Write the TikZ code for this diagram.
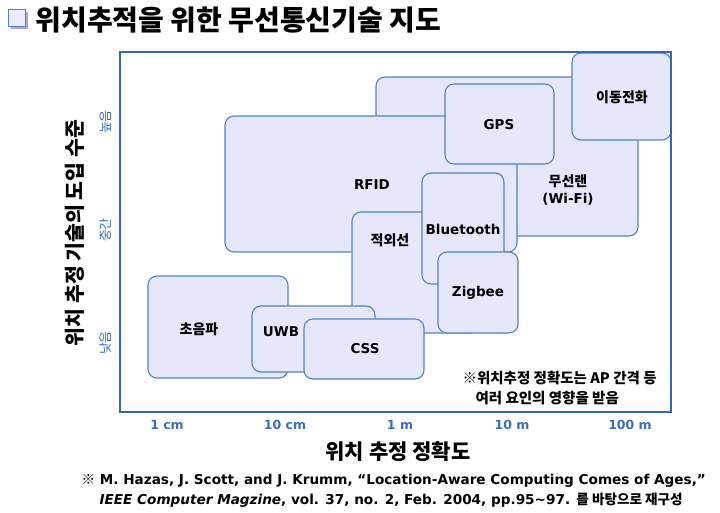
\documentclass[tikz,border=0pt]{standalone}
\usepackage{fontspec}
\setmainfont{DejaVu Sans}
\newfontfamily\kr{Noto Sans CJK KR}
\usepackage{xcolor}
\usetikzlibrary{positioning}

\definecolor{boxfill}{RGB}{230,231,251}
\definecolor{boxline}{RGB}{84,130,196}
\definecolor{frameblue}{RGB}{52,104,178}
\definecolor{ticktext}{RGB}{58,110,188}

\begin{document}
\begin{tikzpicture}[x=1pt,y=-1pt,
    techbox/.style={draw=boxline,fill=boxfill,line width=1.1pt,rounded corners=9pt},
    techlabel/.style={font=\bfseries\fontsize{13.5}{16}\selectfont},
    krlabel/.style={font=\kr\bfseries\fontsize{14}{17}\selectfont},
    ticklabel/.style={text=ticktext,font=\bfseries\fontsize{12.5}{14}\selectfont},
    levellabel/.style={text=ticktext,rotate=90,font=\kr\fontsize{13}{14}\selectfont}]
    \useasboundingbox (0,0) rectangle (720,512);

    % Title
    \fill[gray!60!blue!50] (11,12) rectangle (28,29); % shadow
    \draw[boxline,fill=blue!8,line width=0.8pt] (8,9) rectangle (25,26);
    \node[anchor=west,font=\kr\bfseries\fontsize{28}{32}\selectfont] (title) at (32,20) {위치추적을 위한 무선통신기술 지도};

    % Technology boxes (back to front)
    \draw[techbox] (376,77) rectangle (638,236); % 무선랜
    \draw[techbox] (225,116) rectangle (517,252); % RFID
    \draw[techbox] (445,84) rectangle (554,164); % GPS
    \draw[techbox] (572,53) rectangle (671,140); % 이동전화
    \draw[techbox] (352,212) rectangle (480,333); % 적외선
    \draw[techbox] (422,173) rectangle (504,284); % Bluetooth
    \draw[techbox] (438,252) rectangle (518,333); % Zigbee
    \draw[techbox] (148,276) rectangle (288,378); % 초음파
    \draw[techbox] (252,306) rectangle (375,372); % UWB
    \draw[techbox] (304,319) rectangle (424,379); % CSS

    \node[krlabel,align=center] (wlan) at (568,190) {무선랜\\\normalfont\bfseries\fontsize{13.5}{16}\selectfont (Wi-Fi)};
    \node[techlabel] (rfid) at (372,185) {RFID};
    \node[techlabel] (gps) at (499,125) {GPS};
    \node[krlabel] (mobile) at (622,97) {이동전화};
    \node[krlabel] (ir) at (390,240) {적외선};
    \node[techlabel] (bt) at (463,229) {Bluetooth};
    \node[techlabel] (zigbee) at (478,293) {Zigbee};
    \node[krlabel] (ultra) at (199,329) {초음파};
    \node[techlabel] (uwb) at (281,332) {UWB};
    \node[techlabel] (css) at (365,349) {CSS};

    % Note
    \node[anchor=west,font=\kr\bfseries\fontsize{14.5}{17}\selectfont] (note1) at (459,378) {※위치추정 정확도는 AP 간격 등};
    \node[anchor=west,font=\kr\bfseries\fontsize{14.5}{17}\selectfont] (note2) at (472,398) {여러 요인의 영향을 받음};

    % Frame
    \draw[frameblue,line width=2pt] (120,52) rectangle (671,412);

    % Axes
    \foreach \x/\t [count=\i] in {167/1 cm,285/10 cm,400/1 m,512/10 m,630/100 m}
        \node[ticklabel] (xt\i) at (\x,425) {\t};
    \node[font=\kr\bfseries\fontsize{21}{24}\selectfont] (xlabel) at (398,452) {위치 추정 정확도};
    \node[levellabel] (high) at (106,122) {높음};
    \node[levellabel] (mid) at (106,230) {중간};
    \node[levellabel] (low) at (106,343) {낮음};
    \node[rotate=90,font=\kr\bfseries\fontsize{20.5}{24}\selectfont] (ylabel) at (75,233) {위치 추정 기술의 도입 수준};

    % Source
    \node[anchor=west,font=\bfseries\fontsize{13.6}{16}\selectfont] (src1) at (78,481) {{\kr ※} M. Hazas, J. Scott, and J. Krumm, “Location-Aware Computing Comes of Ages,”};
    \node[anchor=west,font=\bfseries\fontsize{13.6}{16}\selectfont] (src2) at (96,500) {\textit{IEEE Computer Magzine}, vol. 37, no. 2, Feb. 2004, pp.95\textasciitilde 97. {\kr 를 바탕으로 재구성}};
\end{tikzpicture}
\end{document}
